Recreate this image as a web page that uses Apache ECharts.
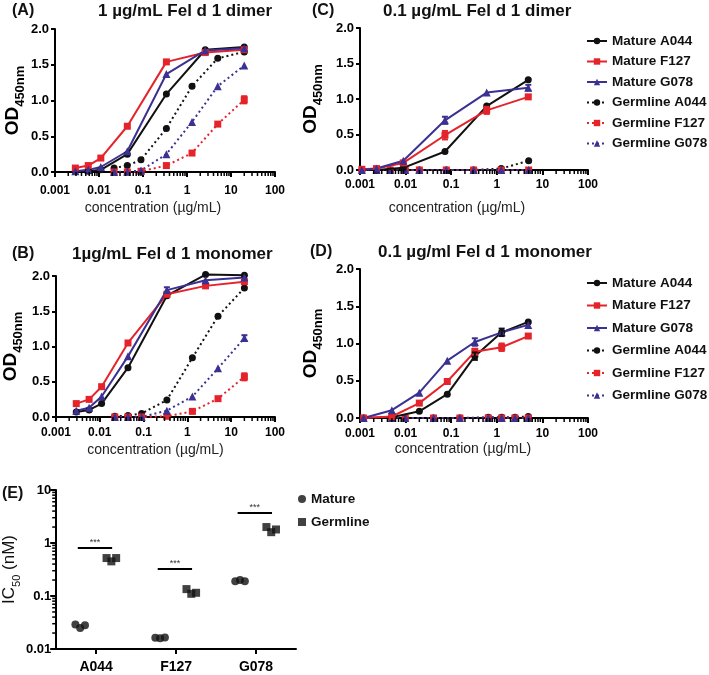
<!DOCTYPE html>
<html><head><meta charset="utf-8">
<script src="https://cdn.jsdelivr.net/npm/echarts/dist/echarts.min.js"></script>
<style>html,body{margin:0;padding:0;background:#fff}#c{width:709px;height:675px}</style>
</head><body><div id="c"></div>
<script>
// ---------------- DATA ----------------
const seriesNames = ['Mature A044','Mature F127','Mature G078','Germline A044','Germline F127','Germline G078'];
const xTickLabels = ['0.001','0.01','0.1','1','10','100'];
const eTickLabels = ['0.01','0.1','1','10'];
const eCategories = ['A044','F127','G078'];

// Panel A: 1 µg/mL Fel d 1 dimer
const concA_mat = [0.0029, 0.0057, 0.011, 0.044, 0.34, 2.6, 20];
const concA_ger = [0.022, 0.044, 0.09, 0.34, 1.3, 5, 20];
const A_matA044 = [0.01, 0.01, 0.03, 0.25, 1.09, 1.71, 1.75];
const A_matF127 = [0.055, 0.09, 0.195, 0.64, 1.54, 1.67, 1.71];
const A_matG078 = [0.01, 0.03, 0.07, 0.29, 1.37, 1.70, 1.73];
const A_gerA044 = [0.055, 0.09, 0.17, 0.61, 1.20, 1.59, 1.68];
const A_gerF127 = [0.0, 0.0, 0.01, 0.09, 0.265, 0.67, 1.01];
const A_gerG078 = [0.0, 0.005, 0.02, 0.25, 0.70, 1.20, 1.49];
const errA = [[20, 1.01, 0.05, 'red']];

// Panel B: 1 µg/mL Fel d 1 monomer
const concB_mat = [0.0029, 0.0057, 0.011, 0.044, 0.34, 2.6, 20];
const concB_ger = [0.022, 0.044, 0.09, 0.34, 1.3, 5, 20];
const B_matA044 = [0.07, 0.10, 0.19, 0.70, 1.72, 2.02, 2.01];
const B_matF127 = [0.19, 0.25, 0.43, 1.05, 1.74, 1.86, 1.92];
const B_matG078 = [0.09, 0.13, 0.29, 0.86, 1.80, 1.94, 1.98];
const B_gerA044 = [0.01, 0.02, 0.05, 0.24, 0.84, 1.43, 1.83];
const B_gerF127 = [0.0, 0.0, 0.0, 0.01, 0.08, 0.26, 0.57];
const B_gerG078 = [0.0, 0.0, 0.0, 0.09, 0.29, 0.69, 1.12];
const errB = [[0.34, 1.80, 0.04, 'blue'], [20, 1.12, 0.04, 'blue'], [20, 0.57, 0.05, 'red']];

// Panel C: 0.1 µg/mL Fel d 1 dimer
const concC_mat = [0.0011, 0.0023, 0.0089, 0.073, 0.6, 4.9];
const concC_ger = [0.0023, 0.0046, 0.0098, 0.02, 0.078, 0.31, 1.25, 5];
const C_matA044 = [0.0, 0.0, 0.03, 0.26, 0.90, 1.27];
const C_matF127 = [0.01, 0.02, 0.10, 0.49, 0.84, 1.03];
const C_matG078 = [0.0, 0.02, 0.13, 0.70, 1.09, 1.16];
const C_gerA044 = [0, 0, 0, 0, 0, 0, 0.02, 0.13];
const C_gerF127 = [0, 0, 0, 0, 0, 0, 0, 0];
const C_gerG078 = [0, 0, 0, 0, 0, 0, 0, 0];
const errC = [[0.073, 0.70, 0.05, 'blue'], [0.073, 0.49, 0.06, 'red'], [0.6, 0.84, 0.05, 'red'], [4.9, 1.16, 0.04, 'blue']];

// Panel D: 0.1 µg/ml Fel d 1 monomer
const concD_mat = [0.0012, 0.005, 0.02, 0.082, 0.33, 1.28, 4.9];
const concD_ger = [0.005, 0.0098, 0.041, 0.155, 0.65, 1.28, 2.5, 4.9];
const D_matA044 = [0.0, 0.01, 0.09, 0.32, 0.83, 1.15, 1.29];
const D_matF127 = [0.0, 0.02, 0.20, 0.49, 0.89, 0.95, 1.10];
const D_matG078 = [0.0, 0.105, 0.34, 0.77, 1.02, 1.15, 1.25];
const D_gerA044 = [0.0, 0.0, 0.0, 0.0, 0.01, 0.01, 0.01, 0.02];
const D_gerF127 = [0, 0, 0, 0, 0, 0, 0, 0];
const D_gerG078 = [0, 0, 0, 0, 0, 0, 0, 0];
const errD = [[0.33, 1.02, 0.05, 'blue'], [0.33, 0.89, 0.04, 'red'], [0.33, 0.83, 0.05, 'black'], [1.28, 0.95, 0.05, 'red'], [1.28, 1.15, 0.05, 'black']];

// Panel E: IC50 (nM), triplicates per antibody
const E_mature = [[0.029, 0.025, 0.028], [0.0163, 0.016, 0.0165], [0.19, 0.20, 0.19]];
const E_germline = [[0.52, 0.45, 0.52], [0.135, 0.11, 0.115], [2.0, 1.6, 1.8]];
const E_sigLevels = [0.8, 0.33, 3.7];

// ---------------- STYLE / LAYOUT ----------------
const FONT = "'Liberation Sans', Arial, Helvetica, sans-serif";
const COL = {black: '#111111', red: '#e5232a', blue: '#3a3192'};
const TICKC = '#000';
const seriesStyle = [
  {c: COL.black, s: 'circle', d: false}, {c: COL.red, s: 'rect', d: false}, {c: COL.blue, s: 'triangle', d: false},
  {c: COL.black, s: 'circle', d: true}, {c: COL.red, s: 'rect', d: true}, {c: COL.blue, s: 'triangle', d: true}
];
const panels = [
  {grid: {left: 55, top: 29, width: 220, height: 143}, mx: concA_mat, gx: concA_ger,
   ys: [A_matA044, A_matF127, A_matG078, A_gerA044, A_gerF127, A_gerG078], err: errA,
   lm: 13, ng: 29, npad: 24, yng: 27},
  {grid: {left: 55, top: 276, width: 220, height: 141}, mx: concB_mat, gx: concB_ger,
   ys: [B_matA044, B_matF127, B_matG078, B_gerA044, B_gerF127, B_gerG078], err: errB,
   lm: 10, ng: 26, npad: 20, yng: 31},
  {grid: {left: 360, top: 28, width: 228, height: 142}, mx: concC_mat, gx: concC_ger,
   ys: [C_matA044, C_matF127, C_matG078, C_gerA044, C_gerF127, C_gerG078], err: errC,
   lm: 9, ng: 31, npad: 34, yng: 35},
  {grid: {left: 360, top: 269, width: 228, height: 149}, mx: concD_mat, gx: concD_ger,
   ys: [D_matA044, D_matF127, D_matG078, D_gerA044, D_gerF127, D_gerG078], err: errD,
   lm: 10, ng: 24, npad: 22, yng: 35}
];

const axisLine = {show: true, lineStyle: {color: '#000', width: 2}};
const boldLbl = (size) => ({color: '#000', fontWeight: 'bold', fontSize: size, fontFamily: FONT});

const grids = [], xAxes = [], yAxes = [], series = [];

function minorLogTicks(lo, hi) {
  const out = [];
  for (let p = Math.round(Math.log10(lo)); p < Math.round(Math.log10(hi)); p++) {
    for (let k = 2; k <= 9; k++) out.push(k * Math.pow(10, p));
  }
  return out;
}

panels.forEach((P, gi) => {
  grids.push(Object.assign({containLabel: false}, P.grid));
  xAxes.push({
    type: 'log', logBase: 10, gridIndex: gi, min: 0.001, max: 100,
    axisLine, axisTick: {show: true, length: 5, lineStyle: {width: 2, color: '#000'}},
    splitLine: {show: false},
    axisLabel: Object.assign(boldLbl(12), {margin: P.lm, formatter: (v, i) => xTickLabels[i]}),
    name: 'concentration (µg/mL)', nameLocation: 'middle', nameGap: P.ng,
    nameTextStyle: {fontSize: 14, color: '#222', fontFamily: FONT, padding: [0, P.npad, 0, 0]}
  });
  yAxes.push({
    type: 'value', gridIndex: gi, min: 0, max: 2, interval: 0.5,
    axisLine, axisTick: {show: true, length: 4, lineStyle: {width: 2, color: '#000'}},
    splitLine: {show: false},
    axisLabel: Object.assign(boldLbl(13), {margin: 6, formatter: v => v.toFixed(1)}),
    name: '{a|OD}{b|450nm}', nameLocation: 'middle', nameGap: P.yng, nameRotate: 90,
    nameTextStyle: {fontFamily: FONT, rich: {
      a: {fontSize: 19, fontWeight: 'bold', color: '#000', lineHeight: 19, padding: [0, 0, 5, 0], verticalAlign: 'bottom', fontFamily: FONT},
      b: {fontSize: 13, fontWeight: 'bold', color: '#000', lineHeight: 13, verticalAlign: 'bottom', fontFamily: FONT}
    }}
  });
  P.ys.forEach((ys, si) => {
    const st = seriesStyle[si];
    const xs = si < 3 ? P.mx : P.gx;
    series.push({
      type: 'line', name: seriesNames[si], xAxisIndex: gi, yAxisIndex: gi,
      data: xs.map((x, i) => [x, ys[i]]),
      symbol: st.s, symbolSize: st.s === 'triangle' ? 8 : 7,
      lineStyle: {color: st.c, width: 2, type: st.d ? [2, 3] : 'solid'},
      itemStyle: {color: st.c}, clip: false, silent: true, z: 3 + (si < 3 ? 1 : 0)
    });
  });
  series.push({
    type: 'custom', xAxisIndex: gi, yAxisIndex: gi, silent: true, clip: false, z: 5,
    data: P.err.map(e => ({value: [e[0], e[1], e[2]], itemStyle: {color: COL[e[3]]}})),
    renderItem: (params, api) => {
      const x = api.value(0), y = api.value(1), e = api.value(2);
      const lo = api.coord([x, y - e]), hi = api.coord([x, y + e]);
      const c = api.visual('color'), w = 3;
      const st = {stroke: c, lineWidth: 2};
      return {type: 'group', children: [
        {type: 'line', shape: {x1: lo[0], y1: lo[1], x2: hi[0], y2: hi[1]}, style: st},
        {type: 'line', shape: {x1: lo[0] - w, y1: lo[1], x2: lo[0] + w, y2: lo[1]}, style: st},
        {type: 'line', shape: {x1: hi[0] - w, y1: hi[1], x2: hi[0] + w, y2: hi[1]}, style: st}
      ]};
    }
  });
  series.push({
    type: 'custom', xAxisIndex: gi, yAxisIndex: gi, silent: true, clip: false, z: 6,
    data: minorLogTicks(0.001, 100).map(v => [v, 0]),
    renderItem: (params, api) => {
      const p = api.coord([api.value(0), 0]);
      return {type: 'line', shape: {x1: p[0], y1: p[1], x2: p[0], y2: p[1] + 4}, style: {stroke: TICKC, lineWidth: 1.5}};
    }
  });
});

// ---- Panel E ----
grids.push({left: 53, top: 490, width: 243, height: 159});
xAxes.push({
  type: 'category', gridIndex: 4, data: eCategories, boundaryGap: true,
  axisLine, axisTick: {show: true, alignWithLabel: true, length: 5, lineStyle: {width: 2, color: '#000'}},
  axisLabel: Object.assign(boldLbl(14), {margin: 11})
});
xAxes.push({type: 'value', gridIndex: 4, min: 0, max: 3, show: false});
yAxes.push({
  type: 'log', logBase: 10, gridIndex: 4, min: 0.01, max: 10,
  axisLine, axisTick: {show: true, length: 6, lineStyle: {width: 2, color: '#000'}},
  splitLine: {show: false},
  axisLabel: Object.assign(boldLbl(13), {margin: 5, formatter: (v, i) => eTickLabels[i]}),
  name: '{a|IC}{b|50}{a| (nM)}', nameLocation: 'middle', nameGap: 30, nameRotate: 90,
  nameTextStyle: {fontFamily: FONT, rich: {
    a: {fontSize: 17, color: '#111', lineHeight: 17, padding: [0, 0, 4, 0], verticalAlign: 'bottom', fontFamily: FONT},
    b: {fontSize: 11, color: '#111', lineHeight: 11, verticalAlign: 'bottom', fontFamily: FONT}
  }}
});
const jitter = [-0.06, 0, 0.06];
function ePoints(groups, off) {
  const pts = [];
  groups.forEach((g, ci) => g.forEach((v, j) => pts.push([ci + 0.5 + off + jitter[j], v])));
  return pts;
}
series.push({
  type: 'scatter', name: 'Mature', xAxisIndex: 5, yAxisIndex: 4, symbol: 'circle', symbolSize: 8,
  itemStyle: {color: '#111'}, data: ePoints(E_mature, -0.2), silent: true, z: 4
});
series.push({
  type: 'scatter', name: 'Germline', xAxisIndex: 5, yAxisIndex: 4, symbol: 'rect', symbolSize: 8,
  itemStyle: {color: '#111'}, data: ePoints(E_germline, 0.19), silent: true, z: 4,
  markLine: {
    silent: true, symbol: ['none', 'none'], animation: false,
    lineStyle: {color: '#000', width: 2, type: 'solid'},
    label: {show: true, formatter: '***', position: 'insideMiddleTop', distance: 1, fontSize: 9, color: '#333', fontFamily: FONT},
    data: E_sigLevels.map((y, ci) => [{coord: [ci + 0.5 - 0.23, y]}, {coord: [ci + 0.5 + 0.2, y]}])
  }
});
series.push({
  type: 'custom', xAxisIndex: 5, yAxisIndex: 4, silent: true, clip: false, z: 6,
  data: minorLogTicks(0.01, 10).map(v => [0, v]),
  renderItem: (params, api) => {
    const p = api.coord([0, api.value(1)]);
    return {type: 'line', shape: {x1: p[0] - 4, y1: p[1], x2: p[0], y2: p[1]}, style: {stroke: TICKC, lineWidth: 1.5}};
  }
});

const tStyle = {fontSize: 17, fontWeight: 'bold', color: '#111', fontFamily: FONT};
const lStyle = {fontSize: 16, fontWeight: 'bold', color: '#111', fontFamily: FONT};
const titles = [
  ['(A)', 12, 3, lStyle], ['1 µg/mL Fel d 1 dimer', 98, 3, tStyle],
  ['(B)', 12, 246, lStyle], ['1µg/mL Fel d 1 monomer', 72, 246, tStyle],
  ['(C)', 312, 3, lStyle], ['0.1 µg/mL Fel d 1 dimer', 383, 3, tStyle],
  ['(D)', 310, 244, lStyle], ['0.1 µg/ml Fel d 1 monomer', 378, 244, tStyle],
  ['(E)', 2, 486, lStyle]
].map(t => ({text: t[0], left: t[1], top: t[2], padding: 0, textStyle: t[3]}));

const legText = {fontSize: 13.5, fontWeight: 'bold', color: '#111', fontFamily: FONT};
const option = {
  animation: false,
  backgroundColor: '#fff',
  title: titles,
  grid: grids, xAxis: xAxes, yAxis: yAxes, series,
  legend: [
    {data: seriesNames, orient: 'vertical', left: 586, top: 34, itemWidth: 20, itemHeight: 8, itemGap: 6.5, padding: 0, textStyle: legText, selectedMode: false},
    {data: seriesNames, orient: 'vertical', left: 586, top: 276, itemWidth: 20, itemHeight: 8, itemGap: 8.5, padding: 0, textStyle: legText, selectedMode: false},
    {data: ['Mature', 'Germline'], orient: 'vertical', left: 298, top: 492, itemWidth: 8, itemHeight: 8, itemGap: 9, padding: 0, textStyle: legText, selectedMode: false}
  ]
};
const chart = echarts.init(document.getElementById('c'), null, {renderer: 'canvas'});
chart.setOption(option);
</script></body></html>
